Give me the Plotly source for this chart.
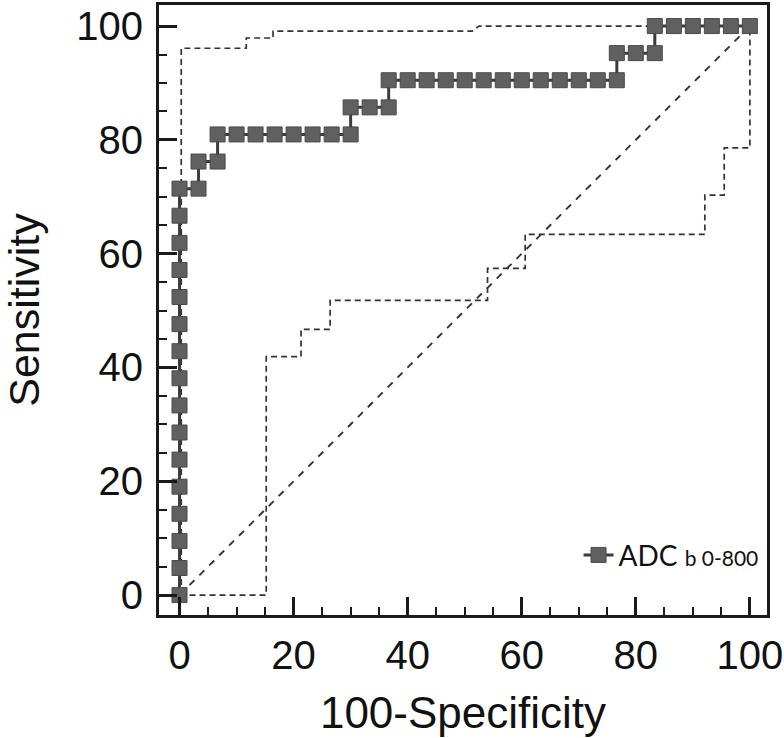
import plotly.graph_objects as go

# ROC curve (100-Specificity, Sensitivity) in %
roc_x = [0, 0, 0, 0, 0, 0, 0, 0, 0, 0, 0, 0, 0, 0, 0, 0,
         3.33, 3.33, 6.67, 6.67, 10, 13.33, 16.67, 20, 23.33, 26.67, 30,
         30, 33.33, 36.67, 36.67, 40, 43.33, 46.67, 50, 53.33, 56.67, 60,
         63.33, 66.67, 70, 73.33, 76.67, 76.67, 80, 83.33, 83.33, 86.67,
         90, 93.33, 96.67, 100]
roc_y = [0, 4.76, 9.52, 14.29, 19.05, 23.81, 28.57, 33.33, 38.10, 42.86,
         47.62, 52.38, 57.14, 61.90, 66.67, 71.43,
         71.43, 76.19, 76.19, 80.95, 80.95, 80.95, 80.95, 80.95, 80.95, 80.95, 80.95,
         85.71, 85.71, 85.71, 90.48, 90.48, 90.48, 90.48, 90.48, 90.48, 90.48, 90.48,
         90.48, 90.48, 90.48, 90.48, 90.48, 95.24, 95.24, 95.24, 100, 100,
         100, 100, 100, 100]

# Upper confidence bound
upper_x = [0.3, 0.3, 11.7, 11.7, 16.4, 16.4, 51.3, 52.5, 100]
upper_y = [0, 96.1, 96.1, 97.9, 97.9, 99.1, 99.1, 100, 100]

# Lower confidence bound
lower_x = [0, 15.2, 15.2, 21.3, 21.3, 26.4, 26.4, 54.0, 54.0, 60.6, 60.6,
           92.1, 92.1, 95.5, 95.5, 100, 100]
lower_y = [0, 0, 41.9, 41.9, 46.7, 46.7, 51.8, 51.8, 57.4, 57.4, 63.4,
           63.4, 70.3, 70.3, 78.6, 78.6, 100]

# Reference diagonal
diag_x = [0, 100]
diag_y = [0, 100]

x_ticks = [0, 20, 40, 60, 80, 100]
y_ticks = [0, 20, 40, 60, 80, 100]

series_name = "ADC <span style='font-size:21px'>b 0-800</span>"

fig = go.Figure()
fig.add_trace(go.Scatter(x=diag_x, y=diag_y, mode="lines", showlegend=False,
                         line=dict(color="#333333", width=1.9, dash="7px,7px")))
fig.add_trace(go.Scatter(x=upper_x, y=upper_y, mode="lines", showlegend=False,
                         line=dict(color="#333333", width=1.7, dash="6px,4px")))
fig.add_trace(go.Scatter(x=lower_x, y=lower_y, mode="lines", showlegend=False,
                         line=dict(color="#333333", width=1.7, dash="6px,4px")))
fig.add_trace(go.Scatter(x=roc_x, y=roc_y, mode="lines+markers", name=series_name,
                         line=dict(color="#3c3c3c", width=3),
                         marker=dict(symbol="square", size=15, color="#606060",
                                     line=dict(color="#4a4a4a", width=1))))

axis_common = dict(
    showline=True, mirror=True, linewidth=3, linecolor="#1a1a1a",
    ticks="inside", ticklen=18, tickwidth=3, tickcolor="#1a1a1a",
    showgrid=False, zeroline=False, automargin=False, ticklabeloverflow="allow",
    tickfont=dict(family="Liberation Sans, Arial", size=40, color="#111"),
    minor=dict(dtick=5, ticks="inside", ticklen=8, tickwidth=2, tickcolor="#1a1a1a"),
)

fig.update_layout(
    width=784, height=738,
    margin=dict(l=159, r=17, t=5, b=123),
    paper_bgcolor="white", plot_bgcolor="white",
    xaxis=dict(range=[-3.6, 103.0], tickvals=x_ticks, ticklabelstandoff=3,
               title=dict(text="100-Specificity",
                          font=dict(family="Liberation Sans, Arial", size=44, color="#111"),
                          standoff=22),
               **axis_common),
    yaxis=dict(range=[-3.5, 103.7], tickvals=y_ticks, ticklabelstandoff=5,
               title=dict(text="Sensitivity",
                          font=dict(family="Liberation Sans, Arial", size=43, color="#111"),
                          standoff=43),
               **axis_common),
    legend=dict(x=0.69, y=0.098, xanchor="left", yanchor="middle",
                bgcolor="rgba(0,0,0,0)",
                font=dict(family="Lato, Open Sans", size=28, color="#111")),
)

fig.write_html("out.html", config={"displayModeBar": False},
               post_script="document.body.style.margin='0';document.body.style.padding='0';")
